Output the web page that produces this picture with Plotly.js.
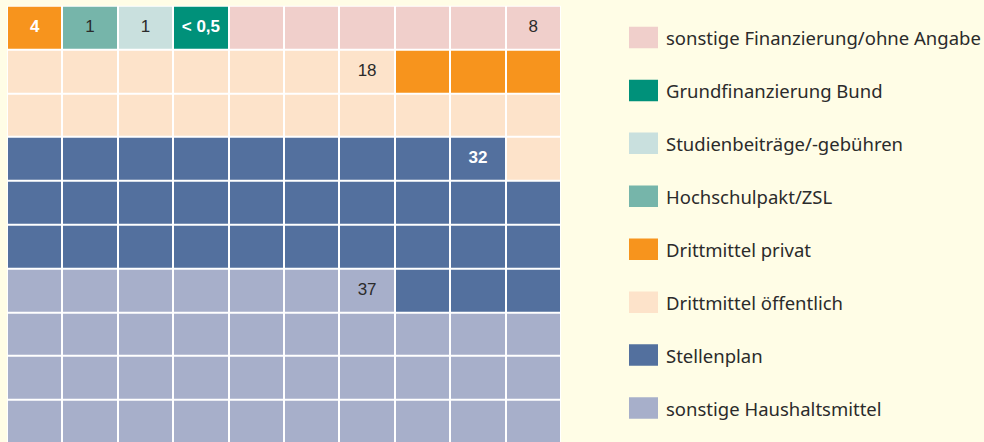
<!DOCTYPE html>
<html>
<head>
<meta charset="utf-8">
<script src="https://cdn.plot.ly/plotly-3.0.1.min.js"></script>
<style>html,body{margin:0;padding:0;background:#fffde6;}#chart{width:984px;height:442px;}</style>
</head>
<body>
<div id="chart"></div>
<script>
// Categories, listed from the bottom of the waffle to the top
const categories = [
  "sonstige Haushaltsmittel",
  "Stellenplan",
  "Drittmittel öffentlich",
  "Drittmittel privat",
  "Hochschulpakt/ZSL",
  "Studienbeiträge/-gebühren",
  "Grundfinanzierung Bund",
  "sonstige Finanzierung/ohne Angabe"
];
// Number of waffle cells (of 100) per category
const cellCounts = [37, 32, 18, 4, 1, 1, 1, 6];
// Value labels as printed
const valueLabels = ["37", "32", "18", "4", "1", "1", "< 0,5", "8"];

// Styles
const colors = ["#a7afca", "#53709e", "#fde3ca", "#f7941d", "#76b5aa", "#c9e0de", "#00917a", "#f0cfcb"];
const whiteLabel = [false, true, false, true, false, false, true, false];
const bg = "#fffde6";
const textDark = "#2b2b2b";

const NCOL = 10, NROW = 10;
// Build grid: fill left-to-right, bottom-to-top
const z = [];
for (let r = 0; r < NROW; r++) z.push(new Array(NCOL).fill(null));
let idx = 0;
const lastCell = [];
cellCounts.forEach((n, c) => {
  for (let k = 0; k < n; k++) {
    const r = Math.floor(idx / NCOL), col = idx % NCOL;
    z[r][col] = c;
    idx++;
  }
  const li = idx - 1;
  lastCell.push({x: li % NCOL, y: Math.floor(li / NCOL)});
});

const nC = categories.length;
const colorscale = [];
colors.forEach((c, i) => { colorscale.push([i / nC, c]); colorscale.push([(i + 1) / nC, c]); });

const W = 984, H = 442;
const gridLeft = 7, gridRight = 561, gridTop = 5.7, pitchY = 43.8;
const plotH = H - gridTop;
const rowsVisible = plotH / pitchY;

const waffle = {
  type: "heatmap",
  z: z,
  x: [...Array(NCOL).keys()],
  y: [...Array(NROW).keys()],
  colorscale: colorscale,
  zmin: -0.5, zmax: nC - 0.5,
  showscale: false,
  xgap: 2, ygap: 2,
  hoverinfo: "skip",
  xaxis: "x", yaxis: "y"
};

const labels = {
  type: "scatter",
  mode: "text",
  x: lastCell.map(p => p.x),
  y: lastCell.map(p => p.y),
  text: valueLabels.map((t, i) => whiteLabel[i] ? "<b>" + t + "</b>" : t),
  textfont: {family: "Liberation Sans, Arial, sans-serif", size: 17, color: whiteLabel.map(w => w ? "#ffffff" : textDark)},
  textposition: "middle center",
  hoverinfo: "skip",
  showlegend: false,
  cliponaxis: false,
  xaxis: "x", yaxis: "y"
};

// Legend swatches as horizontal bars in a side subplot
const legPitch = 52.93, legTopCenter = 37.5, swH = 21.5;
const legTop = legTopCenter - legPitch / 2;
const legBottom = legTop + nC * legPitch;
const legendSw = {
  type: "bar",
  orientation: "h",
  x: categories.map(() => 1),
  base: categories.map(() => -0.5),
  y: categories.map((c, i) => i),
  width: swH / legPitch,
  marker: {color: colors, line: {width: 0}},
  hoverinfo: "skip",
  showlegend: false,
  xaxis: "x2", yaxis: "y2"
};

const annotations = categories.map((c, i) => ({
  xref: "x2", yref: "y2", x: 0.5, y: i,
  text: c, showarrow: false, xanchor: "left", yanchor: "middle", xshift: 6,
  font: {family: "Noto Sans, sans-serif", size: 18.5, color: textDark}
}));

const layout = {
  width: W, height: H,
  margin: {l: 0, r: 0, t: 0, b: 0, pad: 0},
  paper_bgcolor: bg,
  plot_bgcolor: bg,
  showlegend: false,
  xaxis: {domain: [gridLeft / W, gridRight / W], range: [-0.5, NCOL - 0.5], visible: false, fixedrange: true},
  yaxis: {domain: [0, 1 - gridTop / H], range: [NROW - 0.5 - rowsVisible, NROW - 0.5], visible: false, fixedrange: true},
  xaxis2: {domain: [629 / W, 658 / W], range: [-0.5, 0.5], visible: false, fixedrange: true, anchor: "y2"},
  yaxis2: {domain: [1 - legBottom / H, 1 - legTop / H], range: [-0.5, nC - 0.5], visible: false, fixedrange: true, anchor: "x2"},
  shapes: [{type: "rect", xref: "x domain", yref: "y domain", x0: 0, x1: 1, y0: 0, y1: 1,
            fillcolor: "#ffffff", line: {width: 0}, layer: "below"}],
  annotations: annotations
};

Plotly.newPlot("chart", [waffle, labels, legendSw], layout, {displayModeBar: false, staticPlot: true});
</script>
</body>
</html>
